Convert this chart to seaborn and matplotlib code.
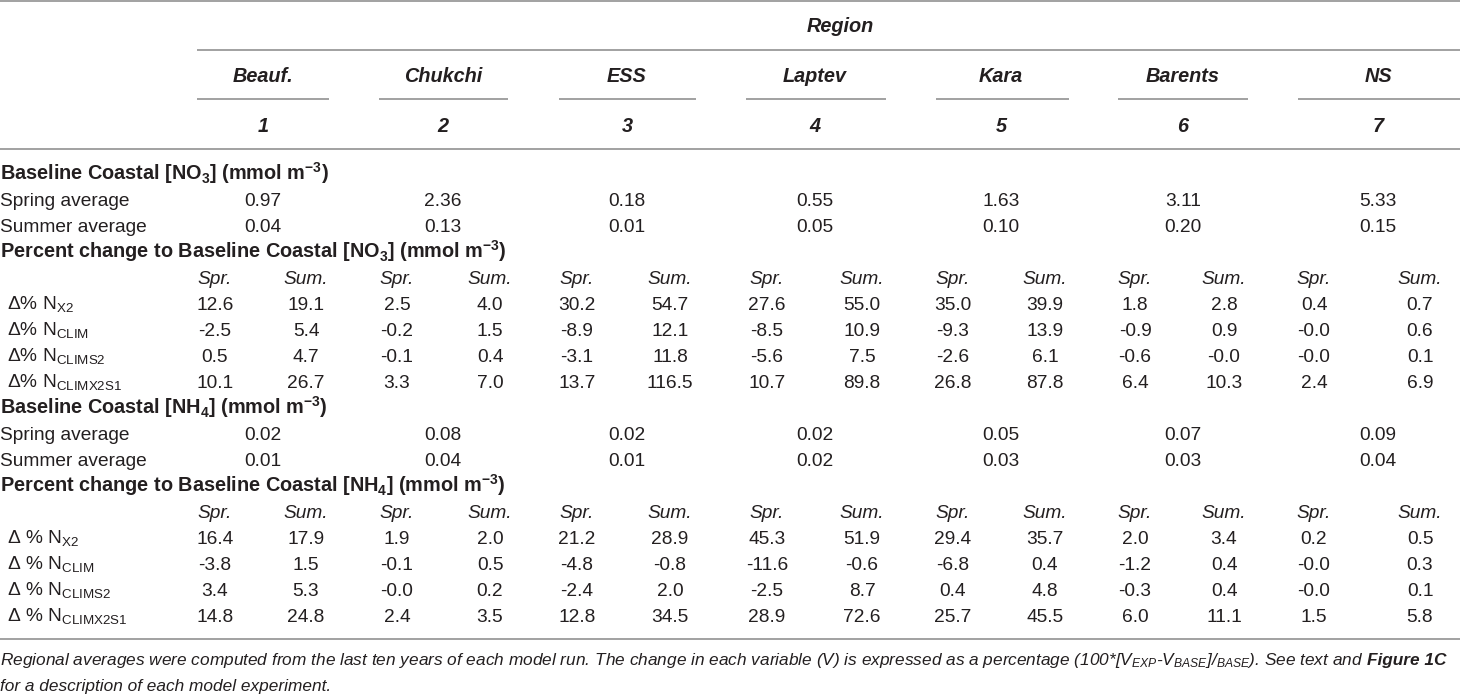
import matplotlib
matplotlib.use("Agg")
import matplotlib.pyplot as plt
import seaborn as sns

# Datos de la tabla
regions = ["Beauf.", "Chukchi", "ESS", "Laptev", "Kara", "Barents", "NS"]
region_ids = ["1", "2", "3", "4", "5", "6", "7"]
seasons = ["Spr.", "Sum."]

no3_spring = [0.97, 2.36, 0.18, 0.55, 1.63, 3.11, 5.33]
no3_summer = [0.04, 0.13, 0.01, 0.05, 0.10, 0.20, 0.15]

no3_x2_spr = [12.6, 2.5, 30.2, 27.6, 35.0, 1.8, 0.4]
no3_x2_sum = [19.1, 4.0, 54.7, 55.0, 39.9, 2.8, 0.7]
no3_clim_spr = [-2.5, -0.2, -8.9, -8.5, -9.3, -0.9, -0.0]
no3_clim_sum = [5.4, 1.5, 12.1, 10.9, 13.9, 0.9, 0.6]
no3_clims2_spr = [0.5, -0.1, -3.1, -5.6, -2.6, -0.6, -0.0]
no3_clims2_sum = [4.7, 0.4, 11.8, 7.5, 6.1, -0.0, 0.1]
no3_climx2s1_spr = [10.1, 3.3, 13.7, 10.7, 26.8, 6.4, 2.4]
no3_climx2s1_sum = [26.7, 7.0, 116.5, 89.8, 87.8, 10.3, 6.9]

nh4_spring = [0.02, 0.08, 0.02, 0.02, 0.05, 0.07, 0.09]
nh4_summer = [0.01, 0.04, 0.01, 0.02, 0.03, 0.03, 0.04]

nh4_x2_spr = [16.4, 1.9, 21.2, 45.3, 29.4, 2.0, 0.2]
nh4_x2_sum = [17.9, 2.0, 28.9, 51.9, 35.7, 3.4, 0.5]
nh4_clim_spr = [-3.8, -0.1, -4.8, -11.6, -6.8, -1.2, -0.0]
nh4_clim_sum = [1.5, 0.5, -0.8, -0.6, 0.4, 0.4, 0.3]
nh4_clims2_spr = [3.4, -0.0, -2.4, -2.5, 0.4, -0.3, -0.0]
nh4_clims2_sum = [5.3, 0.2, 2.0, 8.7, 4.8, 0.4, 0.1]
nh4_climx2s1_spr = [14.8, 2.4, 12.8, 28.9, 25.7, 6.0, 1.5]
nh4_climx2s1_sum = [24.8, 3.5, 34.5, 72.6, 45.5, 11.1, 5.8]

exp_labels = [r"N$_{\mathregular{X2}}$", r"N$_{\mathregular{CLIM}}$",
              r"N$_{\mathregular{CLIMS2}}$", r"N$_{\mathregular{CLIMX2S1}}$"]

# Estilo
sns.set_theme(style="white")
plt.rcParams["font.family"] = ["Liberation Sans", "DejaVu Sans"]
plt.rcParams["mathtext.fontset"] = "custom"
plt.rcParams["mathtext.rm"] = "Liberation Sans"
plt.rcParams["mathtext.it"] = "Liberation Sans:italic"
plt.rcParams["mathtext.bf"] = "Liberation Sans:bold"
plt.rcParams["mathtext.default"] = "regular"

INK = "#231f20"
RULE = "#9a9a9a"
FS = 13.8       # texto normal
FS_HEAD = 14.3  # encabezados en negrita
FS_CAP = 12.45  # nota al pie

# Posiciones de columnas (pixeles)
col_mid = [263, 443, 627, 815, 1001, 1183, 1378]
col_spr = [215, 397, 577, 767, 953, 1135, 1314]
col_sum = [306, 490, 670, 862, 1045, 1224, 1420]
seg_lo = [197, 379, 559, 746, 936, 1118, 1298]
seg_hi = [329, 508, 696, 886, 1069, 1248, 1460]

fig = plt.figure(figsize=(14.6, 6.96), dpi=100)
ax = fig.add_axes([0, 0, 1, 1])
ax.set_xlim(0, 1460)
ax.set_ylim(696, 0)
ax.axis("off")


def put(x, y, s, ha="center", **kw):
    # y es el centro visual de la linea; se pasa a linea base
    kw.setdefault("fontsize", FS)
    kw.setdefault("color", INK)
    return ax.text(x, y + 6.5, s, ha=ha, va="baseline", **kw)


# Reglas horizontales
ax.hlines([1, 149, 639], 0, 1460, color=RULE, lw=1.3)
ax.hlines(50, 197, 1460, color=RULE, lw=1.3)
ax.hlines([99] * 7, seg_lo, seg_hi, color=RULE, lw=1.3)

# Encabezado
put(840, 26, "Region", fontweight="bold", fontstyle="italic", fontsize=FS_HEAD)
for i in range(7):
    put(col_mid[i], 75, regions[i], fontweight="bold", fontstyle="italic", fontsize=FS_HEAD)
    put(col_mid[i], 125, region_ids[i], fontweight="bold", fontstyle="italic", fontsize=FS_HEAD)


def block(y0, species, spring, summer, changes, delta):
    step = 26
    put(0, y0, r"Baseline Coastal [%s$_{\mathbf{%s}}$] (mmol m$^{\mathbf{-3}}$)" % species,
        ha="left", fontweight="bold", fontsize=FS_HEAD)
    put(0, y0 + step, "Spring average", ha="left")
    put(0, y0 + 2 * step, "Summer average", ha="left")
    for i in range(7):
        put(col_mid[i], y0 + step, f"{spring[i]:.2f}")
        put(col_mid[i], y0 + 2 * step, f"{summer[i]:.2f}")
    put(0, y0 + 3 * step,
        r"Percent change to Baseline Coastal [%s$_{\mathbf{%s}}$] (mmol m$^{\mathbf{-3}}$)" % species,
        ha="left", fontweight="bold", fontsize=FS_HEAD)
    yh = y0 + 4 * step
    for i in range(7):
        put(col_spr[i], yh, seasons[0], fontstyle="italic")
        put(col_sum[i], yh, seasons[1], fontstyle="italic")
    for r, (spr, sm) in enumerate(changes):
        y = yh + (r + 1) * step
        put(7, y, delta + exp_labels[r], ha="left")
        for i in range(7):
            put(col_spr[i], y, f"{spr[i]:.1f}")
            put(col_sum[i], y, f"{sm[i]:.1f}")


block(173, ("NO", "3"), no3_spring, no3_summer,
      [(no3_x2_spr, no3_x2_sum), (no3_clim_spr, no3_clim_sum),
       (no3_clims2_spr, no3_clims2_sum), (no3_climx2s1_spr, no3_climx2s1_sum)],
      "\u0394% ")
block(407, ("NH", "4"), nh4_spring, nh4_summer,
      [(nh4_x2_spr, nh4_x2_sum), (nh4_clim_spr, nh4_clim_sum),
       (nh4_clims2_spr, nh4_clims2_sum), (nh4_climx2s1_spr, nh4_climx2s1_sum)],
      "\u0394 % ")

# Nota al pie
cap1 = (r"Regional averages were computed from the last ten years of each model run. "
        r"The change in each variable (V) is expressed as a percentage "
        r"(100*[V$_{\mathit{EXP}}$-V$_{\mathit{BASE}}$]/${}_{\mathit{BASE}}$). See text and")
t1 = put(0, 659, cap1, ha="left", fontstyle="italic", fontsize=FS_CAP)
put(0, 685, "for a description of each model experiment.", ha="left",
    fontstyle="italic", fontsize=FS_CAP)
fig.canvas.draw()
bb = t1.get_window_extent(renderer=fig.canvas.get_renderer())
x_end = ax.transData.inverted().transform((bb.x1, 0))[0]
put(x_end + 4, 659, "Figure 1C", ha="left", fontstyle="italic", fontweight="bold",
    fontsize=FS_CAP)

fig.savefig("out.png", dpi=100, facecolor="white")
